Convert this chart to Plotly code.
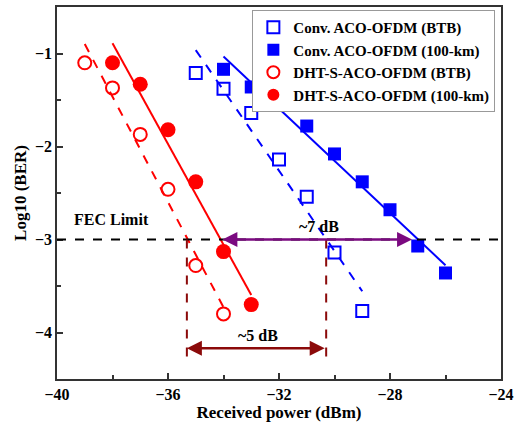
import numpy as np
import plotly.graph_objects as go

# Data
conv_btb_x = [-35, -34, -33, -32, -31, -30, -29]
conv_btb_y = [-1.21, -1.38, -1.64, -2.14, -2.54, -3.14, -3.77]
conv_100_x = [-34, -33, -32, -31, -30, -29, -28, -27, -26]
conv_100_y = [-1.17, -1.36, -1.51, -1.78, -2.08, -2.38, -2.68, -3.07, -3.36]
dht_btb_x = [-39, -38, -37, -36, -35, -34]
dht_btb_y = [-1.10, -1.37, -1.87, -2.46, -3.28, -3.80]
dht_100_x = [-38, -37, -36, -35, -34, -33]
dht_100_y = [-1.10, -1.33, -1.82, -2.38, -3.13, -3.70]

fec_limit = -3
arrow7 = [-34.04, -27.15]
arrow5 = [-35.32, -30.30]
arrow5_y = -4.17
vline_bottom = -4.35

FONT = "Liberation Serif"
BLUE = "#0000FF"
RED = "#FF0000"
PURPLE = "#7B0A80"
MAROON = "#8B0A0A"

fig = go.Figure()

def fit_line(xs, ys, color, dash):
    p = np.polyfit(xs, ys, 1)
    xx = np.array([min(xs), max(xs)])
    fig.add_trace(go.Scatter(x=xx, y=np.polyval(p, xx), mode="lines",
                             line=dict(color=color, width=2, dash=dash),
                             showlegend=False, hoverinfo="skip"))

fit_line(conv_btb_x, conv_btb_y, BLUE, "dash")
fit_line(conv_100_x, conv_100_y, BLUE, "solid")
fit_line(dht_btb_x, dht_btb_y, RED, "dash")
fit_line(dht_100_x, dht_100_y, RED, "solid")

fig.add_trace(go.Scatter(x=conv_btb_x, y=conv_btb_y, mode="markers",
                         name="Conv. ACO-OFDM (BTB)",
                         marker=dict(symbol="square-open", size=12, color=BLUE, line=dict(width=2, color=BLUE))))
fig.add_trace(go.Scatter(x=conv_100_x, y=conv_100_y, mode="markers",
                         name="Conv. ACO-OFDM (100-km)",
                         marker=dict(symbol="square", size=13, color=BLUE)))
fig.add_trace(go.Scatter(x=dht_btb_x, y=dht_btb_y, mode="markers",
                         name="DHT-S-ACO-OFDM (BTB)",
                         marker=dict(symbol="circle-open", size=13, color=RED, line=dict(width=2, color=RED))))
fig.add_trace(go.Scatter(x=dht_100_x, y=dht_100_y, mode="markers",
                         name="DHT-S-ACO-OFDM (100-km)",
                         marker=dict(symbol="circle", size=15, color=RED)))

# FEC limit line
fig.add_shape(type="line", xref="paper", x0=0, x1=1, yref="y", y0=fec_limit, y1=fec_limit,
              line=dict(color="black", width=2, dash="dash"))
# vertical maroon dashed lines
for xv in arrow5:
    fig.add_shape(type="line", x0=xv, x1=xv, y0=fec_limit, y1=vline_bottom,
                  line=dict(color=MAROON, width=2, dash="dash"))

# arrows
fig.add_annotation(x=arrow7[0], y=fec_limit, ax=arrow7[1], ay=fec_limit, xref="x", yref="y",
                   axref="x", ayref="y", text="", showarrow=True, arrowhead=2, arrowside="end+start",
                   arrowsize=1.2, arrowwidth=2.5, arrowcolor=PURPLE)
fig.add_annotation(x=arrow5[0], y=arrow5_y, ax=arrow5[1], ay=arrow5_y, xref="x", yref="y",
                   axref="x", ayref="y", text="", showarrow=True, arrowhead=2, arrowside="end+start",
                   arrowsize=1.2, arrowwidth=2.5, arrowcolor=MAROON)

txtfont = dict(family=FONT, size=16, color="black", weight="bold")
fig.add_annotation(x=-30.55, y=-2.86, text="~7 dB", showarrow=False, font=txtfont)
fig.add_annotation(x=-32.75, y=-4.03, text="~5 dB", showarrow=False, font=txtfont)
fig.add_annotation(x=-38.05, y=-2.79, text="FEC Limit", showarrow=False, font=txtfont)

axis_common = dict(showline=True, linecolor="#333333", linewidth=1.5, mirror=True,
                   ticks="inside", ticklen=6, tickwidth=1.5, tickcolor="#333333",
                   showgrid=False, zeroline=False, ticklabeloverflow="allow", automargin=False,
                   tickfont=dict(family=FONT, size=16, color="black", weight="bold"))

fig.update_xaxes(range=[-40, -24], dtick=4, tick0=-40,
                 minor=dict(dtick=2, ticks="inside", ticklen=4, tickcolor="#333333", tickwidth=1.5),
                 title=dict(text="Received power (dBm)", standoff=2,
                            font=dict(family=FONT, size=17, color="black", weight="bold")),
                 **axis_common)
fig.update_yaxes(range=[-4.5, -0.5], dtick=1, tick0=-1,
                 minor=dict(dtick=0.5, ticks="inside", ticklen=4, tickcolor="#333333", tickwidth=1.5),
                 title=dict(text="Log10 (BER)", standoff=4,
                            font=dict(family=FONT, size=17, color="black", weight="bold")),
                 **axis_common)

fig.update_layout(
    width=515, height=426,
    margin=dict(l=57, r=14, t=7, b=47),
    paper_bgcolor="white", plot_bgcolor="white",
    font=dict(family=FONT, color="black"),
    legend=dict(x=0.44, y=0.992, xanchor="left", yanchor="top",
                bgcolor="white", bordercolor="#999999", borderwidth=1,
                font=dict(family=FONT, size=15, color="black", weight="bold"),
                tracegroupgap=0, itemsizing="constant"),
)

fig.write_html("out.html")
